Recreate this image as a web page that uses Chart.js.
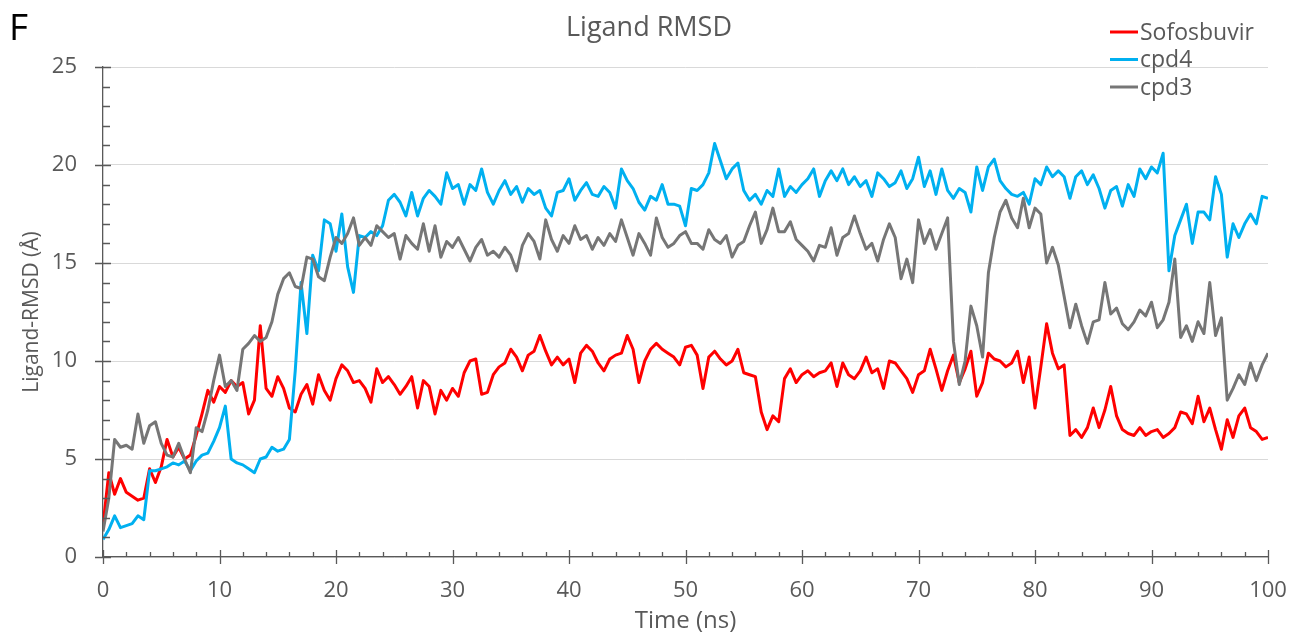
<!DOCTYPE html>
<html>
<head>
<meta charset="utf-8">
<title>Ligand RMSD</title>
<script src="https://cdn.jsdelivr.net/npm/chart.js@4.4.0/dist/chart.umd.min.js"></script>
<style>
  html, body { margin: 0; padding: 0; background: #fff; }
  #wrap { position: relative; width: 1290px; height: 633px; }
</style>
</head>
<body>
<div id="wrap"><canvas id="rmsd" width="1290" height="633"></canvas></div>
<script>
// === data (one sample every 0.5 ns) ===
const timeNs = Array.from({ length: 201 }, (_, i) => i * 0.5);

const sofosbuvir = [
    1.6, 4.3, 3.2, 4.0, 3.3, 3.1, 2.9, 3.0, 4.5, 3.8,
    4.6, 6.0, 5.1, 5.6, 5.0, 5.2, 6.2, 7.3, 8.5, 7.9,
    8.7, 8.4, 9.0, 8.7, 8.9, 7.3, 8.0, 11.8, 8.6, 8.2,
    9.2, 8.6, 7.6, 7.4, 8.3, 8.8, 7.8, 9.3, 8.5, 8.0,
    9.1, 9.8, 9.5, 8.9, 9.0, 8.6, 7.9, 9.6, 8.9, 9.2,
    8.8, 8.3, 8.7, 9.2, 7.6, 9.0, 8.7, 7.3, 8.5, 8.0,
    8.6, 8.2, 9.4, 10.0, 10.1, 8.3, 8.4, 9.3, 9.7, 9.9,
    10.6, 10.2, 9.5, 10.3, 10.5, 11.3, 10.5, 9.8, 10.2, 9.8,
    10.1, 8.9, 10.4, 10.8, 10.5, 9.9, 9.5, 10.1, 10.3, 10.4,
    11.3, 10.6, 8.9, 10.0, 10.6, 10.9, 10.6, 10.4, 10.2, 9.8,
    10.7, 10.8, 10.3, 8.6, 10.2, 10.5, 10.1, 9.8, 10.0, 10.6,
    9.4, 9.3, 9.2, 7.4, 6.5, 7.2, 6.9, 9.1, 9.6, 8.9,
    9.3, 9.5, 9.2, 9.4, 9.5, 9.9, 8.7, 9.9, 9.3, 9.1,
    9.5, 10.2, 9.4, 9.6, 8.6, 10.0, 9.9, 9.5, 9.1, 8.4,
    9.3, 9.5, 10.6, 9.6, 8.5, 9.5, 10.3, 8.9, 9.6, 10.5,
    8.2, 8.9, 10.4, 10.1, 10.0, 9.7, 9.9, 10.5, 8.9, 10.2,
    7.6, 9.7, 11.9, 10.4, 9.6, 9.8, 6.2, 6.5, 6.1, 6.6,
    7.6, 6.6, 7.5, 8.7, 7.2, 6.5, 6.3, 6.2, 6.6, 6.2,
    6.4, 6.5, 6.1, 6.3, 6.6, 7.4, 7.3, 6.8, 8.2, 6.9,
    7.6, 6.5, 5.5, 7.0, 6.1, 7.2, 7.6, 6.6, 6.4, 6.0,
    6.1
];

const cpd4 = [
    0.9, 1.4, 2.1, 1.5, 1.6, 1.7, 2.1, 1.9, 4.4, 4.4,
    4.5, 4.6, 4.8, 4.7, 4.9, 4.4, 4.9, 5.2, 5.3, 5.9,
    6.6, 7.7, 5.0, 4.8, 4.7, 4.5, 4.3, 5.0, 5.1, 5.6,
    5.4, 5.5, 6.0, 9.5, 14.0, 11.4, 15.4, 14.6, 17.2, 17.0,
    15.6, 17.5, 14.8, 13.5, 16.4, 16.3, 16.6, 16.4, 16.9, 18.2,
    18.5, 18.1, 17.4, 18.6, 17.4, 18.3, 18.7, 18.4, 18.0, 19.6,
    18.8, 19.0, 18.0, 19.0, 18.7, 19.8, 18.6, 18.0, 18.7, 19.2,
    18.5, 18.9, 18.1, 18.8, 18.5, 18.7, 17.8, 17.4, 18.6, 18.7,
    19.3, 18.2, 18.7, 19.1, 18.5, 18.4, 18.9, 18.6, 17.8, 19.8,
    19.2, 18.8, 18.1, 17.7, 18.4, 18.2, 19.0, 18.0, 18.0, 17.9,
    16.9, 18.8, 18.7, 19.0, 19.6, 21.1, 20.2, 19.3, 19.8, 20.1,
    18.7, 18.2, 18.5, 18.0, 18.7, 18.4, 19.8, 18.4, 18.9, 18.6,
    19.0, 19.3, 19.8, 18.4, 19.2, 19.7, 19.2, 19.8, 19.0, 19.4,
    18.9, 19.2, 18.4, 19.6, 19.3, 18.9, 19.1, 19.7, 18.8, 19.3,
    20.4, 18.9, 19.7, 18.5, 19.8, 18.7, 18.3, 18.8, 18.6, 17.6,
    19.9, 18.7, 19.9, 20.3, 19.2, 18.8, 18.5, 18.4, 18.6, 18.0,
    19.3, 19.0, 19.9, 19.4, 19.7, 19.4, 18.3, 19.4, 19.7, 19.0,
    19.5, 18.8, 17.8, 18.7, 18.9, 17.9, 19.0, 18.4, 19.8, 19.3,
    19.9, 19.6, 20.6, 14.6, 16.4, 17.2, 18.0, 16.0, 17.6, 17.6,
    17.2, 19.4, 18.5, 15.3, 17.0, 16.3, 17.0, 17.5, 17.0, 18.4,
    18.3
];

const cpd3 = [
    1.3, 3.0, 6.0, 5.6, 5.7, 5.5, 7.3, 5.8, 6.7, 6.9,
    5.8, 5.2, 5.1, 5.8, 5.0, 4.3, 6.6, 6.4, 7.5, 9.0,
    10.3, 8.7, 9.0, 8.5, 10.6, 10.9, 11.3, 11.0, 11.2, 12.0,
    13.4, 14.2, 14.5, 13.8, 13.7, 15.3, 15.2, 14.3, 14.1, 15.3,
    16.3, 16.0, 16.5, 17.3, 15.9, 16.3, 15.9, 16.9, 16.6, 16.3,
    16.5, 15.2, 16.4, 16.0, 15.7, 17.0, 15.6, 16.9, 15.3, 16.1,
    15.8, 16.3, 15.7, 15.1, 15.8, 16.2, 15.4, 15.6, 15.3, 15.8,
    15.4, 14.6, 15.9, 16.5, 16.1, 15.2, 17.2, 16.2, 15.6, 16.4,
    16.0, 16.9, 16.2, 16.4, 15.7, 16.3, 15.9, 16.5, 16.1, 17.2,
    16.3, 15.4, 16.5, 16.0, 15.4, 17.3, 16.3, 15.8, 16.0, 16.4,
    16.6, 16.0, 16.0, 15.7, 16.7, 16.2, 16.0, 16.4, 15.3, 15.9,
    16.1, 16.9, 17.6, 16.0, 16.7, 17.8, 16.6, 16.6, 17.1, 16.2,
    15.9, 15.6, 15.1, 15.9, 15.8, 16.8, 15.4, 16.3, 16.5, 17.4,
    16.5, 15.7, 16.0, 15.1, 16.2, 17.0, 16.3, 14.2, 15.2, 14.0,
    17.2, 16.0, 16.7, 15.7, 16.5, 17.3, 11.0, 8.8, 10.0, 12.8,
    11.8, 10.2, 14.5, 16.3, 17.6, 18.2, 17.3, 16.8, 18.3, 16.8,
    17.8, 17.5, 15.0, 15.8, 14.9, 13.3, 11.7, 12.9, 11.8, 10.9,
    12.0, 12.1, 14.0, 12.4, 12.7, 11.9, 11.6, 12.0, 12.6, 12.3,
    13.0, 11.7, 12.1, 13.0, 15.2, 11.2, 11.8, 11.0, 12.0, 11.4,
    14.0, 11.3, 12.2, 8.0, 8.6, 9.3, 8.8, 9.9, 9.0, 9.8,
    10.4
];

const seriesNames = ['Sofosbuvir', 'cpd4', 'cpd3'];
const seriesColors = ['#ff0000', '#00b0f0', '#767676'];
const xTicks = [0, 10, 20, 30, 40, 50, 60, 70, 80, 90, 100];
const yTicks = [0, 5, 10, 15, 20, 25];

const FONT = "'Open Sans', 'DejaVu Sans', sans-serif";
const TEXT = '#595959';

// === 坐标轴刻度 (主/次) ===
const axisTicks = {
    id: 'axisTicks',
    afterDraw(chart) {
        const { ctx, scales: { x, y }, chartArea: a } = chart;
        ctx.save();
        ctx.strokeStyle = TEXT;
        ctx.lineWidth = 1.3;
        ctx.beginPath();
        for (let v = 0; v <= 25; v++) {
            const py = Math.round(y.getPixelForValue(v)) + 0.5;
            if (v % 5 === 0) { ctx.moveTo(a.left - 8, py); ctx.lineTo(a.left + 8, py); }
            else { ctx.moveTo(a.left, py); ctx.lineTo(a.left + 7, py); }
        }
        for (let t = 0; t <= 100; t += 2) {
            const px = Math.round(x.getPixelForValue(t)) + 0.5;
            if (t % 10 === 0) { ctx.moveTo(px, a.bottom - 7); ctx.lineTo(px, a.bottom + 7); }
            else { ctx.moveTo(px, a.bottom - 5); ctx.lineTo(px, a.bottom); }
        }
        ctx.stroke();
        ctx.restore();
    }
};

// === 标题 / 图例 / 面板字母 ===
const decorations = {
    id: 'decorations',
    afterDraw(chart) {
        const ctx = chart.ctx;
        ctx.save();
        ctx.textBaseline = 'middle';

        ctx.fillStyle = '#000';
        ctx.font = `37px ${FONT}`;
        ctx.textAlign = 'left';
        ctx.fillText('F', 9, 29);

        ctx.fillStyle = TEXT;
        ctx.font = `27px ${FONT}`;
        ctx.textAlign = 'center';
        ctx.fillText('Ligand RMSD', 649, 28);

        ctx.font = `23px ${FONT}`;
        ctx.textAlign = 'left';
        seriesNames.forEach((name, i) => {
            const ly = 32 + i * 27.5;
            ctx.strokeStyle = seriesColors[i];
            ctx.lineWidth = 3;
            ctx.beginPath();
            ctx.moveTo(1110, ly);
            ctx.lineTo(1138, ly);
            ctx.stroke();
            ctx.fillStyle = TEXT;
            ctx.fillText(name, 1140, ly + 1);
        });
        ctx.restore();
    }
};

new Chart(document.getElementById('rmsd'), {
    type: 'line',
    data: {
        labels: timeNs,
        datasets: [
            { label: seriesNames[0], data: sofosbuvir, borderColor: seriesColors[0], order: 3 },
            { label: seriesNames[1], data: cpd4, borderColor: seriesColors[1], order: 2 },
            { label: seriesNames[2], data: cpd3, borderColor: seriesColors[2], order: 1 }
        ]
    },
    options: {
        responsive: false,
        animation: false,
        layout: { padding: { top: 67, right: 22, left: 0, bottom: 0 } },
        elements: {
            point: { radius: 0 },
            line: { borderWidth: 3, tension: 0, borderJoinStyle: 'round' }
        },
        plugins: { legend: { display: false }, tooltip: { enabled: false } },
        scales: {
            x: {
                type: 'linear', min: 0, max: 100,
                afterBuildTicks: s => { s.ticks = xTicks.map(v => ({ value: v })); },
                afterFit: s => { s.height = 76; },
                ticks: { color: TEXT, font: { family: FONT, size: 22 }, padding: 2, maxRotation: 0 },
                grid: { display: false, drawTicks: true, tickLength: 19 },
                border: { display: true, color: TEXT, width: 1.3 },
                title: { display: true, text: 'Time (ns)', color: TEXT,
                         font: { family: FONT, size: 24 }, padding: { top: 0, bottom: -3 } }
            },
            y: {
                min: 0, max: 25,
                afterBuildTicks: s => { s.ticks = yTicks.map(v => ({ value: v })); },
                afterFit: s => { s.width = 103; },
                ticks: { color: TEXT, font: { family: FONT, size: 22 }, padding: 26 },
                grid: { color: '#d9d9d9', lineWidth: 1, drawTicks: false },
                border: { display: true, color: TEXT, width: 1.3 },
                title: { display: true, text: 'Ligand-RMSD (Å)', color: TEXT,
                         font: { family: FONT, size: 21 }, padding: { top: 19, bottom: 0 } }
            }
        }
    },
    plugins: [axisTicks, decorations]
});
</script>
</body>
</html>
